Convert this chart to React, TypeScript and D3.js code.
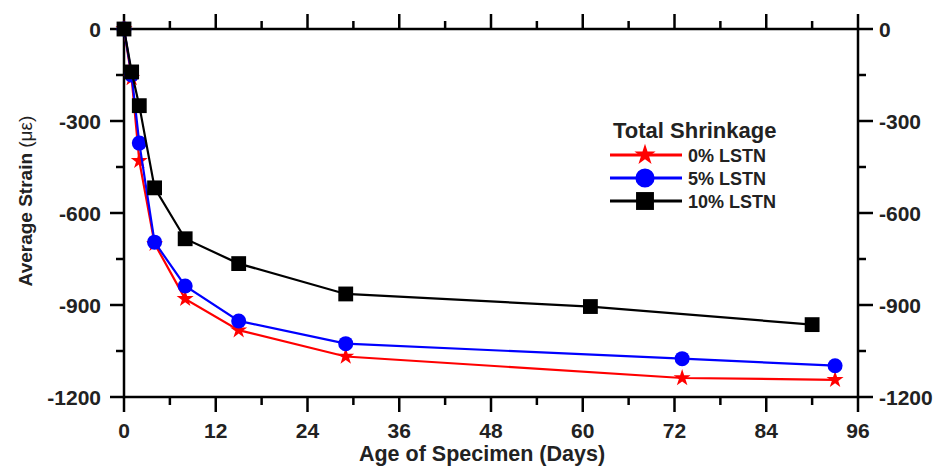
import React from 'react';
import * as d3 from 'd3';

const days0 = [0, 1, 2, 4, 8, 15, 29, 73, 93];
const strain0 = [0, -160, -430, -700, -880, -982, -1068, -1138, -1144];
const days5 = [0, 1, 2, 4, 8, 15, 29, 73, 93];
const strain5 = [0, -150, -372, -695, -838, -952, -1026, -1075, -1098];
const days10 = [0, 1, 2, 4, 8, 15, 29, 61, 90];
const strain10 = [0, -140, -250, -518, -684, -765, -864, -905, -964];

const xTicks = [0, 12, 24, 36, 48, 60, 72, 84, 96];
const xMinor = [6, 18, 30, 42, 54, 66, 78, 90];
const yTicks = [0, -300, -600, -900, -1200];
const yMinor = [-150, -450, -750, -1050];

const seriesNames = ['0% LSTN', '5% LSTN', '10% LSTN'];

export default function App() {
  const width = 952;
  const height = 467;
  const m = { left: 124, right: 94, top: 29, bottom: 70 };
  const x = d3.scaleLinear().domain([0, 96]).range([m.left, width - m.right]);
  const y = d3.scaleLinear().domain([-1200, 0]).range([height - m.bottom, m.top]);

  const series = [
    { name: seriesNames[0], days: days0, vals: strain0, color: '#ff0000', sym: d3.symbolStar, size: 90, legSize: 140 },
    { name: seriesNames[1], days: days5, vals: strain5, color: '#0000ff', sym: d3.symbolCircle, size: 177, legSize: 290 },
    { name: seriesNames[2], days: days10, vals: strain10, color: '#000000', sym: d3.symbolSquare, size: 220, legSize: 320 },
  ];

  const line = d3.line<[number, number]>().x(d => x(d[0])).y(d => y(d[1]));
  const x0 = x(0), x1 = x(96), y0 = y(0), y1 = y(-1200);
  const font = 'Liberation Sans, Arial, sans-serif';

  const legX = 610, legY = 155, legDy = 23;

  return (
    <svg width={width} height={height} style={{ position: 'absolute', left: 0, top: 0, background: '#fff' }}
      fontFamily={font} fontWeight="bold">
      {/* frame */}
      <rect x={x0} y={y0} width={x1 - x0} height={y1 - y0} fill="none" stroke="#000" strokeWidth={2.5} />
      {/* x ticks bottom and top */}
      {xTicks.map(t => (
        <g key={'xt' + t}>
          <line x1={x(t)} x2={x(t)} y1={y1} y2={y1 + 15} stroke="#000" strokeWidth={2.5} />
          <line x1={x(t)} x2={x(t)} y1={y0} y2={y0 - 15} stroke="#000" strokeWidth={2.5} />
          <text x={x(t)} y={y1 + 41} textAnchor="middle" fontSize={21} fill="#222">{t}</text>
        </g>
      ))}
      {xMinor.map(t => (
        <g key={'xm' + t}>
          <line x1={x(t)} x2={x(t)} y1={y1} y2={y1 + 8} stroke="#000" strokeWidth={2.5} />
          <line x1={x(t)} x2={x(t)} y1={y0} y2={y0 - 8} stroke="#000" strokeWidth={2.5} />
        </g>
      ))}
      {yTicks.map(t => (
        <g key={'yt' + t}>
          <line x1={x0} x2={x0 - 14} y1={y(t)} y2={y(t)} stroke="#000" strokeWidth={2.5} />
          <line x1={x1} x2={x1 + 15} y1={y(t)} y2={y(t)} stroke="#000" strokeWidth={2.5} />
          <text x={x0 - 23} y={y(t) + 7.5} textAnchor="end" fontSize={21} fill="#222">{t}</text>
          <text x={x1 + 21} y={y(t) + 7.5} textAnchor="start" fontSize={21} fill="#222">{t}</text>
        </g>
      ))}
      {yMinor.map(t => (
        <g key={'ym' + t}>
          <line x1={x0} x2={x0 - 8} y1={y(t)} y2={y(t)} stroke="#000" strokeWidth={2.5} />
          <line x1={x1} x2={x1 + 8} y1={y(t)} y2={y(t)} stroke="#000" strokeWidth={2.5} />
        </g>
      ))}
      {/* series */}
      {series.map(s => {
        const pts = s.days.map((d, i) => [d, s.vals[i]] as [number, number]);
        const sym = d3.symbol().type(s.sym).size(s.size)();
        return (
          <g key={s.name}>
            <path d={line(pts) || ''} fill="none" stroke={s.color} strokeWidth={2.2} />
            {pts.map((p, i) => (
              <path key={i} d={sym || ''} transform={`translate(${x(p[0])},${y(p[1])})`} fill={s.color} />
            ))}
          </g>
        );
      })}
      {/* legend */}
      <text x={613} y={138} fontSize={22} fill="#222">Total Shrinkage</text>
      {series.map((s, i) => {
        const sym = d3.symbol().type(s.sym).size(s.legSize)();
        const ly = legY + i * legDy;
        return (
          <g key={'leg' + i}>
            <line x1={legX} x2={legX + 72} y1={ly} y2={ly} stroke={s.color} strokeWidth={3} />
            <path d={sym || ''} transform={`translate(${legX + 35},${ly})`} fill={s.color} />
            <text x={legX + 78} y={ly + 6.5} fontSize={18} fill="#222">{s.name}</text>
          </g>
        );
      })}
      {/* axis titles */}
      <text x={482} y={461} textAnchor="middle" fontSize={21.5} fill="#222">Age of Specimen (Days)</text>
      <text transform={`translate(32,201) rotate(-90)`} textAnchor="middle" fontSize={19} fill="#222">
        Average Strain <tspan fontWeight="normal">(με)</tspan>
      </text>
    </svg>
  );
}
